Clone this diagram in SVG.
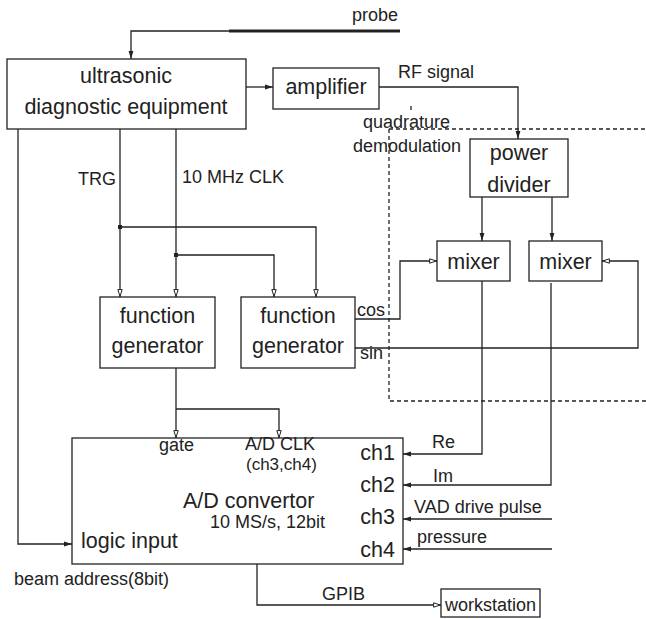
<svg xmlns="http://www.w3.org/2000/svg" width="646" height="619" viewBox="0 0 646 619">
<style>
text{font-family:"Liberation Sans",Arial,sans-serif;fill:#222}
.big{font-size:21.5px}
.sm{font-size:18px}
.mid{text-anchor:middle}
.end{text-anchor:end}
.box{fill:#fff;stroke:#222;stroke-width:1.3}
.ln{fill:none;stroke:#222;stroke-width:1.3}
.dash{fill:none;stroke:#222;stroke-width:1.3;stroke-dasharray:4 3}
</style>
<defs>
<marker id="af" viewBox="0 0 8 6" refX="8" refY="3" markerWidth="8" markerHeight="6" orient="auto" markerUnits="userSpaceOnUse"><path d="M0,0.6 L8,3 L0,5.4 z" fill="#222"/></marker>
<marker id="ao" viewBox="0 0 8 6" refX="8" refY="3" markerWidth="8" markerHeight="6" orient="auto" markerUnits="userSpaceOnUse"><path d="M0.6,0.8 L7.4,3 L0.6,5.2 z" fill="#fff" stroke="#222" stroke-width="1"/></marker>
</defs>

<g id="region">
<path class="dash" d="M389,129 H646"/>
<path class="dash" d="M389,129 V401 H646"/>
<path class="ln" d="M411,106 V110" stroke-width="1"/>
<text class="sm" x="363" y="128">quadrature</text>
<text class="sm" x="353" y="152">demodulation</text>
</g>

<g id="connectors">
<path d="M229,31 H400" fill="none" stroke="#222" stroke-width="3"/>
<path class="ln" d="M229,31 H131 V59" marker-end="url(#af)"/>
<path class="ln" d="M246,87 H273" marker-end="url(#af)"/>
<path class="ln" d="M379,87 H518 V139" marker-end="url(#af)"/>
<path class="ln" d="M482,197 V241" marker-end="url(#af)"/>
<path class="ln" d="M552,197 V241" marker-end="url(#af)"/>
<path class="ln" d="M355,319 H400 V261 H437" marker-end="url(#ao)"/>
<path class="ln" d="M355,348 H638 V261 H602" marker-end="url(#ao)"/>
<path class="ln" d="M482,281 V454 H403" marker-end="url(#af)"/>
<path class="ln" d="M551,283 V485 H403" marker-end="url(#af)"/>
<path class="ln" d="M552,519 H403" marker-end="url(#af)"/>
<path class="ln" d="M552,549 H403" marker-end="url(#af)"/>
<path class="ln" d="M18,129 V544 H72" marker-end="url(#af)"/>
<path class="ln" d="M120,129 V297" marker-end="url(#ao)"/>
<path class="ln" d="M120,227 H316 V297" marker-end="url(#ao)"/>
<path class="ln" d="M176,129 V297" marker-end="url(#ao)"/>
<path class="ln" d="M176,255 H274 V297" marker-end="url(#ao)"/>
<rect x="118" y="225" width="4" height="4" fill="#222"/>
<rect x="174" y="253" width="4" height="4" fill="#222"/>
<path class="ln" d="M176,368 V438" marker-end="url(#ao)"/>
<path class="ln" d="M176,409 H279 V438" marker-end="url(#ao)"/>
<path class="ln" d="M257,564 V605 H441" marker-end="url(#ao)"/>
<text class="sm end" x="398" y="21">probe</text>
<text class="sm" x="398" y="78">RF signal</text>
<text class="sm" x="78" y="185">TRG</text>
<text class="sm" x="182" y="183">10 MHz CLK</text>
<text class="sm" x="357" y="316">cos</text>
<text class="sm" x="360" y="359">sin</text>
<text class="sm" x="432" y="448">Re</text>
<text class="sm" x="433" y="482">Im</text>
<text class="sm" x="414" y="513">VAD drive pulse</text>
<text class="sm" x="417" y="543">pressure</text>
<text class="sm" x="322" y="600">GPIB</text>
<text class="sm" x="14" y="585">beam address(8bit)</text>
</g>

<g id="ultrasonic">
<rect class="box" x="7" y="59" width="239" height="70"/>
<text class="big mid" x="126" y="83">ultrasonic</text>
<text class="big mid" x="126" y="114">diagnostic equipment</text>
</g>

<g id="amplifier">
<rect class="box" x="273" y="68" width="106" height="41"/>
<text class="big mid" x="326" y="94">amplifier</text>
</g>

<g id="power-divider">
<rect class="box" x="470" y="139" width="98" height="58"/>
<text class="big mid" x="519" y="160">power</text>
<text class="big mid" x="519" y="192">divider</text>
</g>

<g id="mixer1">
<rect class="box" x="437" y="241" width="73" height="40"/>
<text class="big mid" x="473.5" y="269">mixer</text>
</g>

<g id="mixer2">
<rect class="box" x="529" y="241" width="73" height="40"/>
<text class="big mid" x="565.5" y="269">mixer</text>
</g>

<g id="fg1">
<rect class="box" x="100" y="297" width="115" height="71"/>
<text class="big mid" x="157.5" y="323">function</text>
<text class="big mid" x="157.5" y="353">generator</text>
</g>

<g id="fg2">
<rect class="box" x="241" y="297" width="114" height="71"/>
<text class="big mid" x="298" y="323">function</text>
<text class="big mid" x="298" y="353">generator</text>
</g>

<g id="adc">
<rect class="box" x="72" y="438" width="331" height="126"/>
<text class="sm" x="159" y="451">gate</text>
<text class="sm" x="245" y="450">A/D CLK</text>
<text x="246" y="470" style="font-size:17px">(ch3,ch4)</text>
<text class="big" x="183" y="508">A/D convertor</text>
<text class="sm" x="210" y="528">10 MS/s, 12bit</text>
<text class="big" x="81" y="548">logic input</text>
<text class="big end" x="395" y="460">ch1</text>
<text class="big end" x="395" y="492">ch2</text>
<text class="big end" x="395" y="524">ch3</text>
<text class="big end" x="395" y="557">ch4</text>
</g>

<g id="workstation">
<rect class="box" x="441" y="589" width="99" height="28"/>
<text class="sm mid" x="490.5" y="611">workstation</text>
</g>
</svg>
